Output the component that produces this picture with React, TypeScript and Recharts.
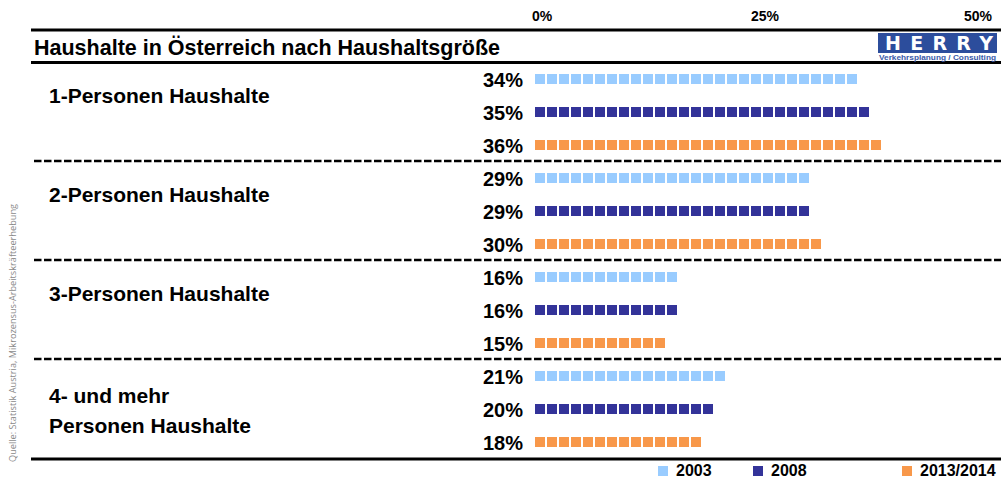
import React from 'react';
import { BarChart, Bar, XAxis, YAxis, LabelList } from 'recharts';

// Haushalte nach Größe, Anteil in %
const groups = ['1-Personen Haushalte', '2-Personen Haushalte', '3-Personen Haushalte', '4- und mehr|Personen Haushalte'];
const years = ['2003', '2008', '2013/2014'];
const share2003 = [34, 29, 16, 21];
const share2008 = [35, 29, 16, 20];
const share2014 = [36, 30, 15, 18];
const axisTicks = [0, 25, 50];

const COLORS = ['#99CCFF', '#333399', '#F8984A'];
const FONT = '"Liberation Sans", Arial, sans-serif';
const STEP = 12; // one square + gap

const series = [share2003, share2008, share2014];
const rows = groups.flatMap((g, gi) =>
  years.map((yr, yi) => ({ key: `${gi}-${yi}`, group: g, year: yi, value: series[yi][gi] }))
);

// bar drawn as a row of small squares, like the original Excel pattern fill
const SquareBar = (props: any) => {
  const { x, y, width, height, payload } = props;
  const n = Math.max(0, Math.floor((width - 9.6) / STEP));
  return (
    <g>
      {Array.from({ length: n }, (_, i) => (
        <rect key={i} x={x + i * STEP} y={y} width={10} height={height} fill={COLORS[payload.year]} />
      ))}
    </g>
  );
};

const TopTick = (props: any) => {
  const { x, index, payload } = props;
  const last = index === axisTicks.length - 1;
  const anchor = last ? 'end' : 'middle';
  const dx = index === 0 ? 7 : last ? -1 : -3;
  return (
    <text x={x + dx} y={21} textAnchor={anchor} fontFamily={FONT} fontWeight="bold" fontSize={14} fill="#000">
      {payload.value}%
    </text>
  );
};

const GroupTick = (props: any) => {
  const { y, index } = props;
  const row = rows[index];
  if (!row || row.year !== 1) return null;
  const lines = row.group.split('|');
  const start = lines.length > 1 ? y - 6 : y - 9;
  return (
    <text fontFamily={FONT} fontWeight="bold" fontSize={21} fill="#000">
      {lines.map((l, i) => (
        <tspan key={i} x={49} y={start + i * 30}>{l}</tspan>
      ))}
    </text>
  );
};

const ValueLabel = (props: any) => {
  const { x, y, height, value } = props;
  return (
    <text x={x - 12} y={y + height / 2 + 8} textAnchor="end" fontFamily={FONT} fontWeight="bold" fontSize={20} fill="#000">
      {value}%
    </text>
  );
};

const App = () => {
  const seps = [1, 2, 3].map((k) => 62 + 99 * k);
  const legendLeft = [658, 753, 902];
  return (
    <div style={{ position: 'absolute', left: 0, top: 0, width: 1001, height: 481, background: '#fff', overflow: 'hidden' }}>
      <BarChart
        width={1001}
        height={481}
        data={rows}
        layout="vertical"
        margin={{ top: 32, right: 0, bottom: 23, left: 0 }}
        barSize={10}
      >
        <XAxis xAxisId="bars" type="number" domain={[0, 46.6]} hide />
        <XAxis
          xAxisId="top"
          type="number"
          orientation="top"
          domain={[0, 50]}
          ticks={axisTicks}
          height={30}
          axisLine={false}
          tickLine={false}
          tick={<TopTick />}
          allowDataOverflow
        />
        <YAxis type="category" dataKey="key" width={535} axisLine={false} tickLine={false} interval={0} tick={<GroupTick />} />
        <Bar xAxisId="bars" dataKey="value" shape={<SquareBar />} isAnimationActive={false}>
          <LabelList dataKey="value" content={<ValueLabel />} />
        </Bar>
      </BarChart>
      <svg width={1001} height={481} style={{ position: 'absolute', left: 0, top: 0, pointerEvents: 'none' }}>
        <line x1={31} x2={1001} y1={30} y2={30} stroke="#000" strokeWidth={3} />
        <line x1={31} x2={1001} y1={62.5} y2={62.5} stroke="#000" strokeWidth={3} />
        <line x1={31} x2={1001} y1={459} y2={459} stroke="#000" strokeWidth={3} />
        {seps.map((y) => (
          <line key={y} x1={34} x2={1001} y1={y} y2={y} stroke="#000" strokeWidth={2.5} strokeDasharray="7.5 2.5" />
        ))}
        <text x={34} y={55} fontFamily={FONT} fontWeight="bold" fontSize={21.5} fill="#000">
          Haushalte in Österreich nach Haushaltsgröße
        </text>
        <rect x={878} y={33} width={119} height={20} fill="#2C4D9C" />
        <text x={885} y={50} fontFamily='"DejaVu Sans", sans-serif' fontWeight="bold" fontSize={19} fill="#fff" textLength={108} lengthAdjust="spacing">
          HERRY
        </text>
        <text x={879} y={59.5} fontFamily={FONT} fontWeight="bold" fontSize={7} fill="#3A5AA8" textLength={117} lengthAdjust="spacingAndGlyphs">
          Verkehrsplanung / Consulting
        </text>
        <text transform="translate(16, 462) rotate(-90)" fontFamily='"Open Sans", sans-serif' fontSize={9.2} fill="#8a8a8a">
          Quelle: Statistik Austria, Mikrozensus-Arbeitskräfteerhebung
        </text>
      </svg>
      {years.map((yr, i) => (
        <div
          key={yr}
          style={{ position: 'absolute', left: legendLeft[i], top: 462, height: 18, display: 'flex', alignItems: 'center', fontFamily: FONT, fontWeight: 'bold', fontSize: 16 }}
        >
          <span style={{ width: 10, height: 10, background: COLORS[i], display: 'inline-block', marginRight: 8 }} />
          {yr}
        </div>
      ))}
    </div>
  );
};

export default App;
